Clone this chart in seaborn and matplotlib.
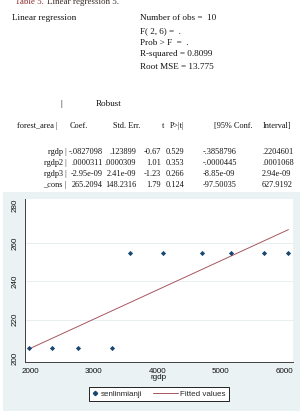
import numpy as np
import pandas as pd
import matplotlib
matplotlib.use('Agg')
import matplotlib.pyplot as plt
from matplotlib.patches import Rectangle
from matplotlib.lines import Line2D
from matplotlib.legend_handler import HandlerLine2D
import seaborn as sns

# scatter data
rgdp = [1989, 2351, 2756, 3291, 3575, 4086, 4706, 5162, 5676, 6065]
senlinmianji = [205, 205, 205, 205, 255, 255, 255, 255, 255, 255]

# regression table text
stats_labels = ["Number of obs =  10", "F( 2, 6) =  .", "Prob > F  =  .",
                "R-squared = 0.8099", "Root MSE = 13.775"]
row_names = ["rgdp |", "rgdp2 |", "rgdp3 |", "_cons |"]
coef = ["-.0827098", ".0000311", "-2.95e-09", "265.2094"]
std_err = [".123899", ".0000309", "2.41e-09", "148.2316"]
t_vals = ["-0.67", "1.01", "-1.23", "1.79"]
p_vals = ["0.529", "0.353", "0.266", "0.124"]
ci_low = ["-.3858796", "-.0000445", "-8.85e-09", "-97.50035"]
ci_high = [".2204601", ".0001068", "2.94e-09", "627.9192"]

W, H = 302, 412
sns.set_style("white")
plt.rcParams['font.family'] = ['Liberation Sans', 'DejaVu Sans']

fig = plt.figure(figsize=(W / 100, H / 100), dpi=100)
fig.patch.set_facecolor('white')


def fx(x):
    return x / W


def fy(y):
    return 1 - y / H


class LongLine(HandlerLine2D):
    # Stata draws the line key longer than the marker key
    def get_xdata(self, legend, xdescent, ydescent, width, height, fontsize):
        x1 = -xdescent + width
        xd = np.array([x1 - 18.0, x1])
        return xd, xd


serif_fam = ['Liberation Serif', 'DejaVu Serif']
top_txt = dict(family=serif_fam, fontsize=6.6, va='center', color='#111111')
tab_txt = dict(family=serif_fam, fontsize=5.95, va='center', color='#111111')

# title (cut at the top edge like the source)
fig.text(fx(15), fy(2.5), "Table 5.", color='#8b2a2a', family=serif_fam, fontsize=6.5, va='center')
fig.text(fx(47), fy(2.5), "Linear regression 5.", color='#3a2a2a', family=serif_fam, fontsize=6.5, va='center')

fig.text(fx(12), fy(18), "Linear regression", **top_txt)
for lab, yy in zip(stats_labels, [18, 31.5, 43, 54.5, 67]):
    fig.text(fx(140), fy(yy), lab, **top_txt)

fig.text(fx(60), fy(104), "|", **top_txt)
fig.text(fx(96), fy(104), "Robust", **top_txt)

hy = 126
fig.text(fx(58), fy(hy), "forest_area |", ha='right', **tab_txt)
for lab, xx in [("Coef.", 70), ("Std. Err.", 113), ("t", 162), ("P>|t|", 170),
                ("[95% Conf.", 214), ("Interval]", 263)]:
    fig.text(fx(xx), fy(hy), lab, **tab_txt)

row_y = [152, 163, 174, 185]
for i, yy in enumerate(row_y):
    fig.text(fx(66.5), fy(yy), row_names[i], ha='right', **tab_txt)
    fig.text(fx(103), fy(yy), coef[i], ha='right', **tab_txt)
    fig.text(fx(136), fy(yy), std_err[i], ha='right', **tab_txt)
    fig.text(fx(161), fy(yy), t_vals[i], ha='right', **tab_txt)
    fig.text(fx(166), fy(yy), p_vals[i], **tab_txt)
    fig.text(fx(203), fy(yy), ci_low[i], **tab_txt)
    fig.text(fx(262), fy(yy), ci_high[i], **tab_txt)

# Stata-like graph region
fig.patches.append(Rectangle((fx(3), fy(411)), fx(297), (411 - 192) / H,
                             transform=fig.transFigure, facecolor='#eaf2f3',
                             edgecolor='none', zorder=-5))

ax = fig.add_axes([fx(25), fy(362), fx(293 - 25), (362 - 199) / H])
ax.set_zorder(1)
ax.set_facecolor('white')

df = pd.DataFrame({'rgdp': rgdp, 'senlinmianji': senlinmianji})
slope, intercept = np.polyfit(df['rgdp'], df['senlinmianji'], 1)
df['fitted'] = intercept + slope * df['rgdp']

for g in [220, 240, 260]:
    ax.axhline(g, color='#e8eff0', lw=0.7, zorder=0)

line_col = '#a85560'
dot_col = '#1a476f'
sns.lineplot(data=df, x='rgdp', y='fitted', ax=ax, color=line_col, lw=0.7, zorder=2)
sns.scatterplot(data=df, x='rgdp', y='senlinmianji', ax=ax, marker='D', s=7,
                color=dot_col, linewidth=0, zorder=3)

ax.set_xlim(1921, 6137)
ax.set_ylim(197.9, 283.1)
ax.set_xticks([2000, 3000, 4000, 5000, 6000])
ax.set_yticks([200, 220, 240, 260, 280])
for s in ['top', 'right']:
    ax.spines[s].set_visible(False)
for s in ['left', 'bottom']:
    ax.spines[s].set_color('#404040')
    ax.spines[s].set_linewidth(0.7)
ax.tick_params(axis='both', direction='out', length=3, width=0.6, color='#404040',
               labelsize=5.8, labelcolor='#111111', pad=1.5)
for lbl in ax.get_yticklabels():
    lbl.set_rotation(90)
    lbl.set_va('center')
ax.set_ylabel('')
ax.set_xlabel('rgdp', fontsize=5.8, color='#111111')
ax.xaxis.set_label_coords(0.5, -0.075)

handles = [Line2D([], [], marker='D', ls='none', color=dot_col, markersize=2.2),
           Line2D([], [], color=line_col, lw=0.7)]
leg = fig.legend(handles, ['senlinmianji', 'Fitted values'], loc='center',
                 bbox_to_anchor=(fx(159), fy(394)), ncol=2, fontsize=5.8,
                 frameon=True, fancybox=False, edgecolor='black', framealpha=1,
                 borderpad=0.35, handlelength=0.8, handletextpad=0.3,
                 columnspacing=3.6, borderaxespad=0,
                 handler_map={handles[1]: LongLine()})
leg.get_frame().set_linewidth(0.6)
leg.get_frame().set_facecolor('white')

fig.savefig('out.png', dpi=100)
